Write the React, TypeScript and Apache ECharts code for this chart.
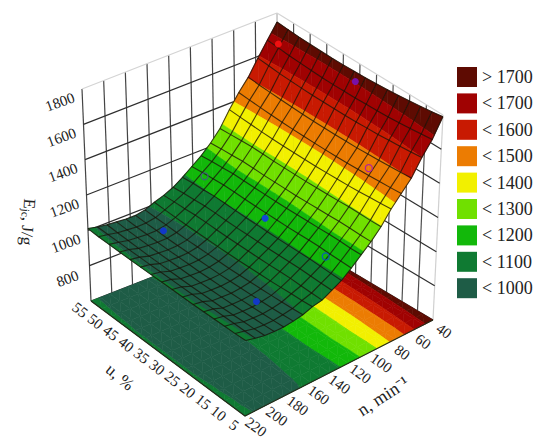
import React, { useEffect, useRef } from "react";
import * as echarts from "echarts";

const nGrid = [40,49,58,67,76,85,94,103,112,121,130,139,148,157,166,175,184,193,202,211,220];
const uGrid = [55,51.67,48.33,45,41.67,38.33,35,31.67,28.33,25,21.67,18.33,15,11.67,8.33,5];
const zRows = [
[1750,1745,1741,1739,1738,1736,1737,1739,1741,1745,1750,1756,1763,1771,1779,1790],
[1670,1664,1658,1654,1651,1648,1647,1647,1647,1650,1652,1655,1660,1666,1673,1680],
[1590,1585,1579,1576,1573,1571,1570,1570,1570,1572,1575,1577,1582,1587,1593,1600],
[1505,1499,1495,1491,1488,1485,1484,1483,1483,1484,1485,1488,1491,1495,1499,1505],
[1440,1435,1431,1427,1424,1422,1421,1420,1420,1421,1422,1424,1427,1431,1435,1440],
[1365,1361,1357,1354,1352,1350,1350,1350,1350,1352,1354,1356,1360,1365,1369,1375],
[1280,1284,1287,1290,1289,1287,1287,1287,1287,1289,1291,1293,1296,1297,1296,1298],
[1220,1225,1228,1232,1231,1229,1229,1229,1229,1231,1233,1235,1238,1238,1237,1238],
[1170,1175,1179,1183,1182,1181,1181,1181,1181,1183,1185,1186,1189,1189,1187,1188],
[1130,1135,1138,1142,1141,1139,1138,1138,1138,1138,1139,1141,1142,1140,1139,1138],
[1090,1095,1097,1101,1100,1097,1096,1096,1095,1095,1096,1097,1098,1096,1094,1093],
[1055,1060,1063,1067,1066,1064,1063,1063,1063,1063,1064,1066,1067,1065,1064,1063],
[1030,1033,1034,1037,1036,1034,1033,1033,1033,1033,1034,1036,1037,1035,1034,1033],
[1012,1009,1007,1005,1004,1003,1003,1003,1003,1005,1007,1008,1011,1015,1017,1022],
[990,987,986,983,982,982,982,982,982,984,986,988,991,994,997,1002],
[980,977,976,973,972,972,972,972,972,974,976,978,981,984,987,992],
[980,976,975,972,970,970,969,968,969,970,971,973,975,978,981,985],
[985,981,979,976,974,973,972,971,971,972,973,974,976,979,981,985],
[990,986,984,981,979,978,977,976,975,976,976,977,979,982,984,988],
[998,997,996,996,995,995,995,995,995,995,995,996,996,997,997,998],
[1010,1006,1005,1004,1003,1003,1003,1003,1003,1003,1003,1004,1005,1006,1007,1010],
];

const bandLabels = ["> 1700","< 1700","< 1600","< 1500","< 1400","< 1300","< 1200","< 1100","< 1000"];
const bandColors = ["#5e0b02","#a00202","#c81a02","#ec7c02","#f2f000","#70e000","#12b80a","#0f7a32","#1e5c46"];
const bandLows = [1700,1600,1500,1400,1300,1200,1100,1000,0];
const bandHighs = [9999,1700,1600,1500,1400,1300,1200,1100,1000];

const zTicks = [1800,1600,1400,1200,1000,800];
const uTicks = [55,50,45,40,35,30,25,20,15,10,5];
const nTicks = [40,60,80,100,120,140,160,180,200,220];

// [n, u, z, colour, hollow]
const probes: any[] = [
  [44,30,1710,"#7a10a8",0],[73,16,1450,"#b020a0",1],[124,12,1130,"#0a5fb0",1],
  [124,31,1125,"#1248d8",0],[177,16,975,"#1238c8",0],[171,47.5,975,"#1238c8",0],
  [124,50,1140,"#40607a",1],[48,52,1680,"#f01010",0],
];

// Plot box corners on the page: floor and ceiling of the 3D box
const fR = [433,320], fF = [245,416], fL = [91,301], fB = [278,228];
const tR = [443,115], tF = [247,195], tL = [82,89], tB = [277,13];
const zMin = 600, zMax = 1800;

const mix = (a: number[], b: number[], k: number) => [a[0]+(b[0]-a[0])*k, a[1]+(b[1]-a[1])*k];
function bil(R: number[], F: number[], L: number[], B: number[], s: number, t: number) {
  return mix(mix(R, F, t), mix(B, L, t), s);
}
function project(n: number, u: number, z: number) {
  const t = (n-40)/180, s = (u-5)/50, f = (z-zMin)/(zMax-zMin);
  return mix(bil(fR,fF,fL,fB,s,t), bil(tR,tF,tL,tB,s,t), f);
}

type V = [number, number, number];
function clip(poly: V[], lo: number, hi: number): V[] {
  const run = (pts: V[], val: number, keepAbove: boolean) => {
    const out: V[] = [];
    for (let i = 0; i < pts.length; i++) {
      const a = pts[i], b = pts[(i+1)%pts.length];
      const ia = keepAbove ? a[2] >= val : a[2] <= val;
      const ib = keepAbove ? b[2] >= val : b[2] <= val;
      if (ia) out.push(a);
      if (ia !== ib) {
        const k = (val-a[2])/(b[2]-a[2]);
        out.push([a[0]+(b[0]-a[0])*k, a[1]+(b[1]-a[1])*k, val]);
      }
    }
    return out;
  };
  const p = run(poly, lo, true);
  return p.length ? run(p, hi, false) : p;
}

function buildPolys(onFloor: boolean) {
  const res: number[][][][] = bandLabels.map(() => []);
  const vert = (i: number, j: number): V => {
    const z = zRows[i][j];
    const p = project(nGrid[i], uGrid[j], onFloor ? zMin : z);
    return [p[0], p[1], z];
  };
  for (let i = 0; i < nGrid.length-1; i++) {
    for (let j = 0; j < uGrid.length-1; j++) {
      const a = vert(i,j), b = vert(i,j+1), c = vert(i+1,j+1), d = vert(i+1,j);
      [[a,b,c],[a,c,d]].forEach((tri) => {
        bandLows.forEach((lo, k) => {
          const pg = clip(tri as V[], lo, bandHighs[k]);
          if (pg.length >= 3) res[k].push(pg.map((v) => [v[0], v[1]]));
        });
      });
    }
  }
  return res;
}

function polySeries(name: string | undefined, polys: number[][][], color: string) {
  return {
    type: "custom", name, silent: true, clip: false,
    itemStyle: { color },
    data: polys.map((_, i) => [i]),
    renderItem: (_: any, api: any) => ({
      type: "polygon",
      shape: { points: polys[api.value(0)].map((p) => api.coord(p)) },
      style: { fill: color, stroke: color, lineWidth: 0.6 },
    }),
  };
}

function lineSeries(lines: { pts: number[][]; color: string; w: number }[]) {
  return {
    type: "custom", silent: true, clip: false,
    data: lines.map((_, i) => [i]),
    renderItem: (_: any, api: any) => {
      const l = lines[api.value(0)];
      return {
        type: "polyline",
        shape: { points: l.pts.map((p) => api.coord(p)) },
        style: { stroke: l.color, lineWidth: l.w, fill: "none" },
      };
    },
  };
}

const SERIF = "Liberation Serif";

export default function App() {
  const ref = useRef<HTMLDivElement>(null);
  useEffect(() => {
    const chart = echarts.init(ref.current!, undefined, { renderer: "svg" });

    const wall: { pts: number[][]; color: string; w: number }[] = [];
    const P = (n: number, u: number, z: number) => project(n, u, z);
    // left wall (u = 55), right wall (n = 40)
    nTicks.forEach((n) => wall.push({ pts: [P(n,55,zMin), P(n,55,zMax)], color: n === 40 ? "#c8c8c8" : "#444444", w: 1.2 }));
    uTicks.forEach((u) => wall.push({ pts: [P(40,u,zMin), P(40,u,zMax)], color: u === 5 ? "#d0d0d0" : u === 55 ? "#c8c8c8" : "#505050", w: 1.2 }));
    zTicks.concat([600]).forEach((z) => {
      const c = z === 1800 ? "#d4d4d4" : "#2e2e2e";
      wall.push({ pts: [P(220,55,z), P(40,55,z)], color: c, w: 1.2 });
      wall.push({ pts: [P(40,55,z), P(40,5,z)], color: c, w: 1.2 });
    });

    const floorEdges = [
      { pts: [P(220,55,zMin), P(220,5,zMin), P(40,5,zMin)], color: "#222a18", w: 1.2 },
    ];

    const mesh: { pts: number[][]; color: string; w: number }[] = [];
    const meshColor = "rgba(24,18,8,0.78)";
    nGrid.forEach((n, i) => mesh.push({ pts: uGrid.map((u, j) => P(n,u,zRows[i][j])), color: meshColor, w: 1.1 }));
    uGrid.forEach((u, j) => mesh.push({ pts: nGrid.map((n, i) => P(n,u,zRows[i][j])), color: meshColor, w: 1.1 }));

    const floorPolys = buildPolys(true);
    const surfPolys = buildPolys(false);

    const series: any[] = [lineSeries(wall)];
    floorPolys.forEach((ps, k) => series.push(polySeries(undefined, ps, bandColors[k])));
    series.push(lineSeries(floorEdges));
    surfPolys.forEach((ps, k) => series.push(polySeries(bandLabels[k], ps, bandColors[k])));
    series.push(lineSeries(mesh));
    series.push({
      type: "custom", silent: true, clip: false,
      data: probes.map((_, i) => [i]),
      renderItem: (_: any, api: any) => {
        const d = probes[api.value(0)];
        const c = api.coord(P(d[0], d[1], d[2]));
        return {
          type: "circle",
          shape: { cx: c[0], cy: c[1], r: 3.5 },
          style: d[4] ? { fill: "none", stroke: d[3], lineWidth: 1.2 } : { fill: d[3] },
        };
      },
    });

    const label = (text: string, x: number, y: number, deg: number, size = 15) => ({
      type: "text", x, y, rotation: (deg*Math.PI)/180, silent: true,
      style: { text, fontFamily: SERIF, fontSize: size, fill: "#222222", align: "center", verticalAlign: "middle" },
    });
    const gfx: any[] = [];
    zTicks.forEach((z) => {
      const p = P(220,55,z);
      gfx.push(label(String(z), p[0]-22, p[1]+13, 20));
    });
    uTicks.forEach((u) => {
      const p = P(220,u,zMin);
      gfx.push(label(String(u), p[0]-11, p[1]+9, -38));
    });
    nTicks.forEach((n) => {
      const p = P(n,5,zMin);
      gfx.push(label(String(n), p[0]+11, p[1]+11, -36));
    });
    gfx.push(label("n, min\u207B\u00B9", 383, 396, 33, 18));
    gfx.push(label("u, %", 120, 377, -40, 17));
    gfx.push({
      type: "text", x: 28, y: 222, rotation: (-94*Math.PI)/180, silent: true,
      style: {
        text: "{a|E}{b|jc}{a|, J/g}", align: "center", verticalAlign: "middle",
        rich: {
          a: { fontFamily: SERIF, fontSize: 17, fill: "#222222" },
          b: { fontFamily: SERIF, fontSize: 11, fill: "#222222", verticalAlign: "bottom", padding: [6,0,0,0] },
        },
      },
    });

    chart.setOption({
      animation: false,
      backgroundColor: "#ffffff",
      grid: { left: 0, right: 0, top: 0, bottom: 0 },
      xAxis: { type: "value", min: 0, max: 550, show: false },
      yAxis: { type: "value", min: 0, max: 447, inverse: true, show: false },
      legend: {
        orient: "vertical", left: 457, top: 67, padding: 0, itemWidth: 20, itemHeight: 20, itemGap: 6.4,
        icon: "rect", selectedMode: false, data: bandLabels,
        textStyle: { fontFamily: SERIF, fontSize: 18, color: "#222222" },
      },
      series,
      graphic: gfx,
    });
    return () => chart.dispose();
  }, []);
  return <div ref={ref} style={{ position: "fixed", left: 0, top: 0, width: 550, height: 447 }} />;
}
